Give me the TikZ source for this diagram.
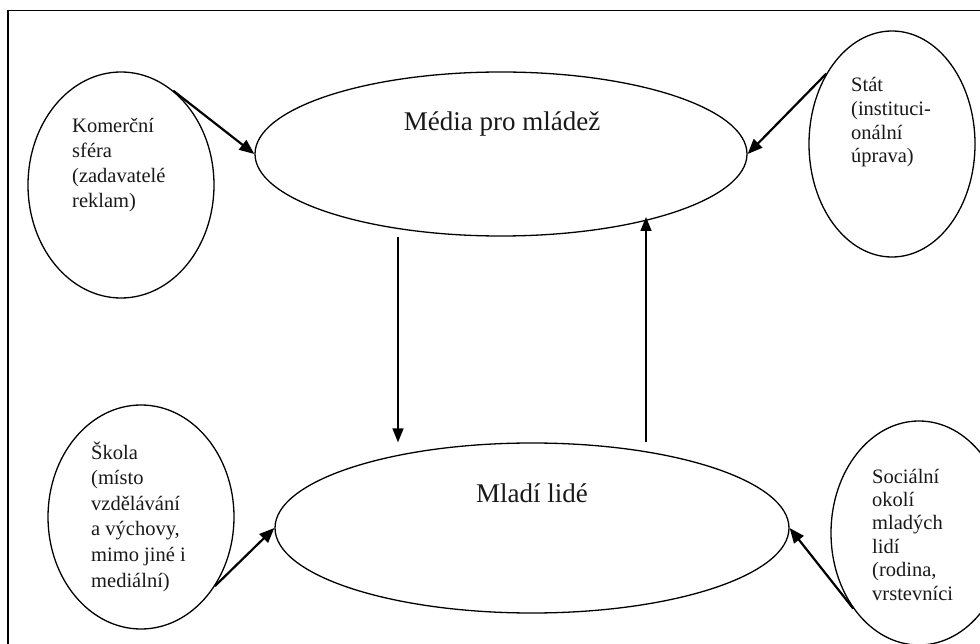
\documentclass[tikz,border=0pt]{standalone}
\usepackage{fontspec}
\setmainfont{Liberation Serif}
\usetikzlibrary{arrows.meta,shapes.geometric}
\begin{document}
\begin{tikzpicture}[x=1pt,y=-1pt,
  bubble/.style={draw, ellipse, line width=1.3pt, inner sep=0pt},
  bigtext/.style={font=\fontsize{27}{32}\selectfont, inner sep=0pt, anchor=base, text=black!90},
  smalltext/.style={inner sep=0pt, anchor=base west, text=black!90},
  diagarrow/.style={line width=2.2pt, -{Triangle[length=15pt,width=12pt]}},
  vertarrow/.style={line width=1.6pt, -{Triangle[length=14pt,width=11pt]}},
  framestyle/.style={line width=1.6pt}
]
\useasboundingbox (0,0) rectangle (980,644);
\fill[white] (0,0) rectangle (980,644);
\draw[framestyle] (8,644) -- (8,10.5) -- (980,10.5);

% ellipses
\node[bubble, minimum width=492pt, minimum height=164pt] (media) at (501,154) {};
\node[bubble, minimum width=514pt, minimum height=170pt] (mladi) at (532,528) {};
\node[bubble, minimum width=186pt, minimum height=226pt] (kom) at (121,185) {};
\node[bubble, minimum width=166pt, minimum height=226pt] (stat) at (892,144) {};
\node[bubble, minimum width=186pt, minimum height=224pt] (skola) at (141,517) {};
\node[bubble, minimum width=176pt, minimum height=224pt] (soc) at (919,533) {};

% texts
\node[bigtext] (tmedia) at (502,131) {Média pro mládež};
\node[bigtext] (tmladi) at (532,502) {Mladí lidé};
\node[smalltext, font=\fontsize{20.5}{25}\selectfont] (tkom) at (72,132.5)
  {\begin{tabular}[t]{@{}l@{}}Komerční\\sféra\\(zadavatelé\\reklam)\end{tabular}};
\node[smalltext, font=\fontsize{20.5}{23.6}\selectfont] (tstat) at (851,92)
  {\begin{tabular}[t]{@{}l@{}}Stát\\(instituci-\\onální\\úprava)\end{tabular}};
\node[smalltext, font=\fontsize{20.5}{25.6}\selectfont] (tskola) at (91,459)
  {\begin{tabular}[t]{@{}l@{}}Škola\\(místo\\vzdělávání\\a výchovy,\\mimo jiné i\\mediální)\end{tabular}};
\node[smalltext, font=\fontsize{20.5}{23.4}\selectfont] (tsoc) at (872,483)
  {\begin{tabular}[t]{@{}l@{}}Sociální\\okolí\\mladých\\lidí\\(rodina,\\vrstevníci\end{tabular}};

% arrows
\draw[diagarrow] (kom.61) -- (media.west);
\draw[diagarrow] (stat.133) -- (media.east);
\draw[diagarrow] (skola.-43) -- (mladi.west);
\draw[diagarrow] (soc.229) -- (mladi.east);

\coordinate (downx) at (398,0);
\coordinate (upx) at (646,0);
\coordinate (uptip) at (646,217);
\draw[vertarrow] (downx |- media.south) -- (downx |- mladi.north);
\draw[vertarrow] (upx |- mladi.north) -- (uptip);
\end{tikzpicture}
\end{document}
